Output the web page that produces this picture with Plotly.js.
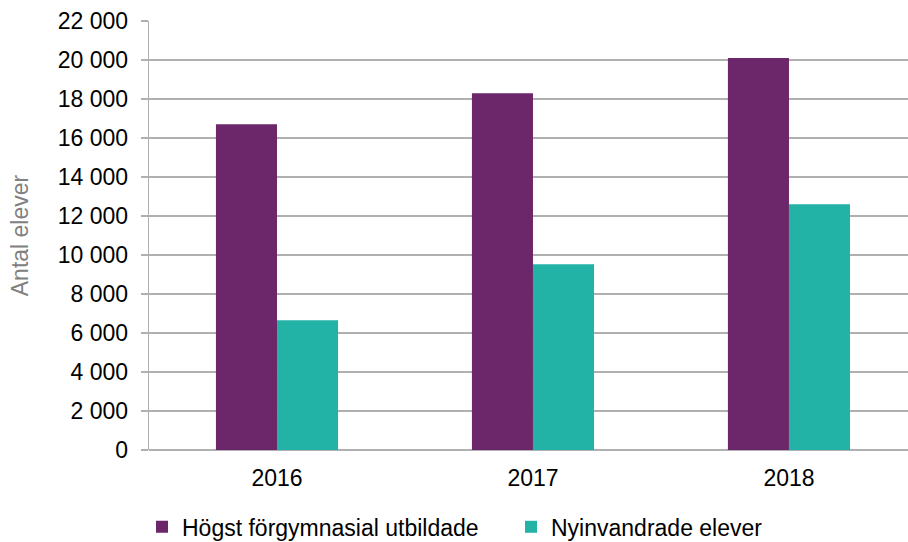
<!DOCTYPE html>
<html>
<head>
<meta charset="utf-8">
<script src="https://cdn.plot.ly/plotly-3.0.1.min.js"></script>
<style>html,body{margin:0;padding:0;background:#fff;}#chart{width:908px;height:542px;}</style>
</head>
<body>
<div id="chart"></div>
<script>
var years = ['2016', '2017', '2018'];
var seriesNames = ['Högst förgymnasial utbildade', 'Nyinvandrade elever'];
var hogstForgymnasial = [16700, 18290, 20100];
var nyinvandrade = [6650, 9520, 12600];
var yTickValues = [0, 2000, 4000, 6000, 8000, 10000, 12000, 14000, 16000, 18000, 20000, 22000];

var font = 'Liberation Sans, Arial, sans-serif';
var data = [
  {type: 'bar', name: seriesNames[0], x: years, y: hogstForgymnasial,
   marker: {color: '#6B2769'}, hoverinfo: 'x+y'},
  {type: 'bar', name: seriesNames[1], x: years, y: nyinvandrade,
   marker: {color: '#23B2A6'}, hoverinfo: 'x+y'}
];
var layout = {
  width: 908, height: 542,
  margin: {l: 149, r: 0, t: 21, b: 92},
  paper_bgcolor: '#fff', plot_bgcolor: '#fff',
  font: {family: font, size: 23, color: '#000'},
  separators: ', ',
  barmode: 'group', bargap: 0.523, bargroupgap: 0,
  xaxis: {type: 'category', range: [-0.5, 2.465], showgrid: false, showline: false,
          ticks: '', zeroline: false, tickfont: {size: 23, color: '#000'}, ticklabelstandoff: 12},
  yaxis: {range: [0, 22000], tickvals: yTickValues, tickformat: ',d',
          showgrid: true, gridcolor: '#b0b0b0', gridwidth: 1.3,
          showline: true, linecolor: '#b0b0b0', linewidth: 1.3,
          ticks: 'outside', ticklen: 7, tickcolor: '#b0b0b0', tickwidth: 1.3,
          zeroline: true, zerolinecolor: '#b0b0b0', zerolinewidth: 1.3,
          tickfont: {size: 23, color: '#000'}, ticklabelstandoff: 8,
          title: {text: 'Antal elever', font: {size: 23, color: '#808080'}, standoff: 22}},
  showlegend: true,
  legend: {orientation: 'h', xref: 'container', yref: 'container', x: 0.1564, y: 0.028,
           xanchor: 'left', yanchor: 'middle', font: {size: 23, color: '#000'},
           entrywidth: 324, entrywidthmode: 'pixels',
           traceorder: 'normal', itemclick: false, itemdoubleclick: false}
};
Plotly.newPlot('chart', data, layout, {displayModeBar: false, staticPlot: true});
</script>
</body>
</html>
